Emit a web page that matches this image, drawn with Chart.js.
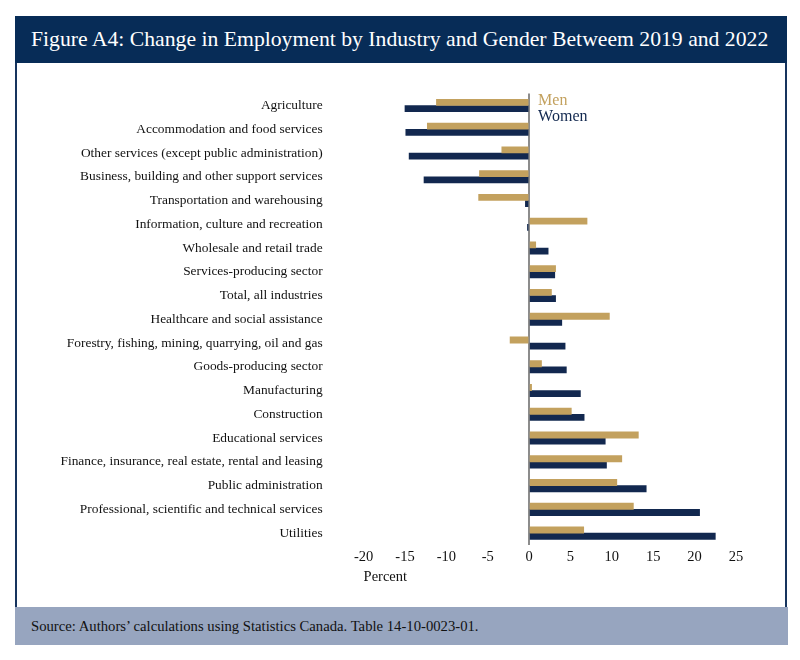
<!DOCTYPE html>
<html>
<head>
<meta charset="utf-8">
<script src="https://cdn.jsdelivr.net/npm/chart.js@4.4.0/dist/chart.umd.min.js"></script>
<style>
  body{margin:0;background:#fff;width:800px;height:660px;position:relative;overflow:hidden;font-family:"Liberation Serif","DejaVu Serif",serif;}
  .header{position:absolute;left:15px;top:16px;width:772px;height:47px;background:#072c57;color:#fff;font-size:21.7px;line-height:47px;padding-left:16px;box-sizing:border-box;white-space:nowrap;}
  .panel{position:absolute;left:15px;top:63px;width:772px;height:544px;border-left:2px solid #16345e;border-right:2px solid #16345e;box-sizing:border-box;}
  .chartBox{position:absolute;left:0;top:0;width:768px;height:544px;}
  .footer{position:absolute;left:15px;top:607px;width:773px;height:38px;background:#97a5bf;color:#111;font-size:14.7px;line-height:38px;padding-left:16px;box-sizing:border-box;white-space:nowrap;}
</style>
</head>
<body>
<div class="header">Figure A4: Change in Employment by Industry and Gender Betweem 2019 and 2022</div>
<div class="panel"><div class="chartBox"><canvas id="chart"></canvas></div></div>
<div class="footer">Source: Authors’ calculations using Statistics Canada. Table 14-10-0023-01.</div>
<script>
// categories, top to bottom
const industries = [
  'Agriculture',
  'Accommodation and food services',
  'Other services (except public administration)',
  'Business, building and other support services',
  'Transportation and warehousing',
  'Information, culture and recreation',
  'Wholesale and retail trade',
  'Services-producing sector',
  'Total, all industries',
  'Healthcare and social assistance',
  'Forestry, fishing, mining, quarrying, oil and gas',
  'Goods-producing sector',
  'Manufacturing',
  'Construction',
  'Educational services',
  'Finance, insurance, real estate, rental and leasing',
  'Public administration',
  'Professional, scientific and technical services',
  'Utilities'
];
// % change 2019 -> 2022
const men   = [-11.2, -12.3, -3.3, -6.0, -6.1, 7.0, 0.8, 3.2, 2.7, 9.7, -2.3, 1.5, 0.3, 5.1, 13.2, 11.2, 10.6, 12.6, 6.6];
const women = [-15.0, -14.9, -14.5, -12.7, -0.45, -0.2, 2.3, 3.1, 3.2, 3.95, 4.35, 4.5, 6.2, 6.65, 9.2, 9.35, 14.15, 20.6, 22.5];
const xMin = -20, xMax = 25, xStep = 5;

const GOLD = '#c3a15e', NAVY = '#12284f';
const serif = '"Liberation Serif","DejaVu Serif",serif';

// legend drawn next to the zero line, like the original
const inlineLegend = {
  id:'inlineLegend',
  afterDraw(chart){
    const c = chart.ctx, x = chart.scales.x.getPixelForValue(0) + 9, top = chart.chartArea.top;
    c.save();
    c.font = '16px ' + serif;
    c.textBaseline = 'middle';
    c.fillStyle = GOLD; c.fillText('Men', x, top + 7);
    c.fillStyle = NAVY; c.fillText('Women', x, top + 23);
    c.restore();
  }
};

new Chart(document.getElementById('chart'), {
  type:'bar',
  data:{
    labels: industries,
    datasets:[
      {label:'Men', data:men, backgroundColor:GOLD, barThickness:6.2},
      {label:'Women', data:women, backgroundColor:NAVY, barThickness:6.2}
    ]
  },
  options:{
    indexAxis:'y',
    responsive:true,
    maintainAspectRatio:false,
    animation:false,
    layout:{padding:{top:30.6, right:49, bottom:0, left:0}},
    plugins:{legend:{display:false}, tooltip:{enabled:false}},
    scales:{
      x:{
        min:xMin, max:xMax,
        ticks:{stepSize:xStep, color:'#111', font:{family:serif, size:14.5}, padding:3},
        grid:{drawTicks:false, lineWidth:2, color:ctx => ctx.tick && ctx.tick.value === 0 ? '#8c8c8c' : 'rgba(0,0,0,0)'},
        border:{display:false},
        title:{display:true, text:'Percent', align:'start', color:'#111', font:{family:serif, size:14.5}, padding:{top:2, bottom:21}},
        afterFit(scale){ scale.height = 62; }
      },
      y:{
        ticks:{color:'#111', font:{family:serif, size:13.4}, padding:41, autoSkip:false},
        grid:{display:false, drawTicks:false},
        border:{display:false},
        // tick padding would otherwise also pad the top/bottom of the axis
        afterFit(scale){ scale.width = 346.6; scale.paddingTop = 0; scale.paddingBottom = 0; }
      }
    }
  },
  plugins:[inlineLegend]
});
</script>
</body>
</html>
